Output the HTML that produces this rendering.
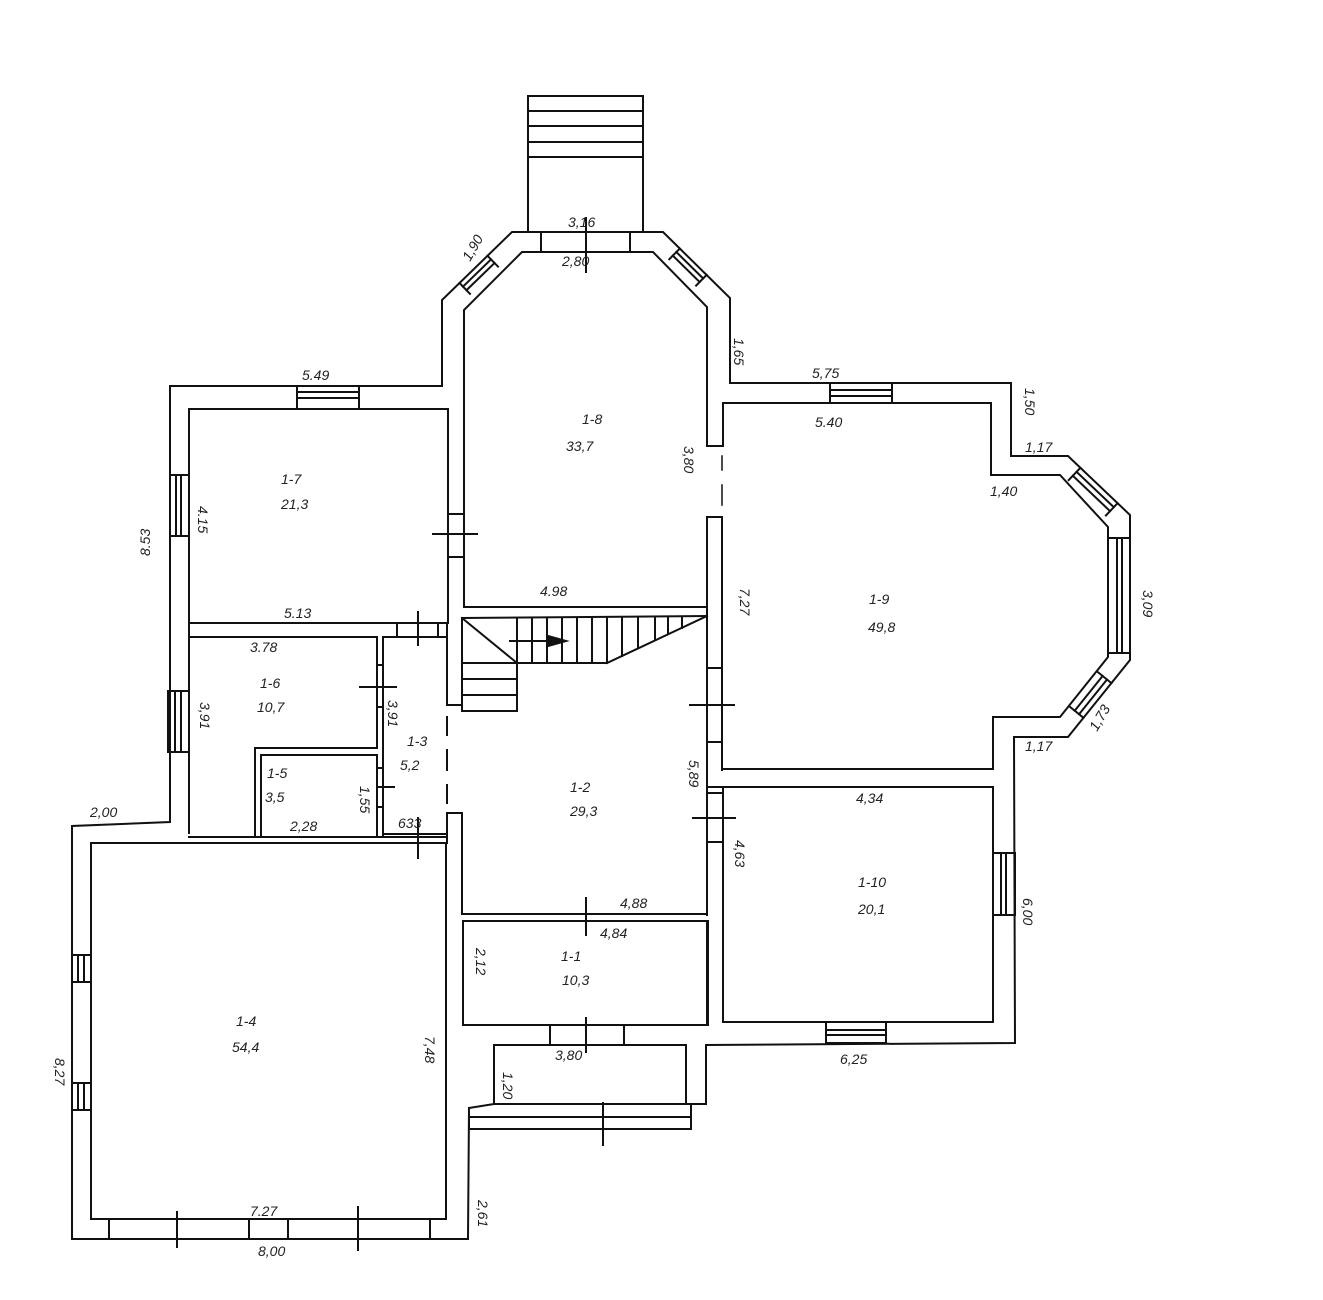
<!DOCTYPE html>
<html><head><meta charset="utf-8"><style>
html,body{margin:0;padding:0;background:#fff;}
svg{display:block}
text{font-family:"Liberation Sans",sans-serif;font-style:italic;font-size:14px;fill:#222;}
</style></head><body>
<svg width="1323" height="1300" viewBox="0 0 1323 1300" xmlns="http://www.w3.org/2000/svg">
<rect width="1323" height="1300" fill="#fff"/>
<g stroke="#111" stroke-width="2" fill="none" stroke-linecap="square">
<!-- entrance steps top -->
<polyline points="528,232 528,96 643,96 643,232"/>
<line x1="528" y1="111" x2="643" y2="111"/><line x1="528" y1="126" x2="643" y2="126"/>
<line x1="528" y1="142" x2="643" y2="142"/><line x1="528" y1="157" x2="643" y2="157"/>
<!-- 1-8 bay -->
<polyline points="170,386 442,386 442,300 512,232 663,232 730,298 730,383 1011,383 1011,456 1068,456 1130,515 1130,660 1068,737 1014,737 1015,1043 706,1045 706,1104 691,1104"/>
<polyline points="464,607 464,310 522,252 653,252 707,307 707,446 722,446"/>
<line x1="541" y1="232" x2="541" y2="252"/><line x1="630" y1="232" x2="630" y2="252"/>
<line x1="586" y1="218" x2="586" y2="272"/>
<!-- left diag window -->
<line x1="487.5" y1="255.8" x2="498" y2="266.6"/><line x1="459.5" y1="283" x2="470" y2="293.8"/>
<line x1="491" y1="259.4" x2="463" y2="286.6"/><line x1="494.5" y1="263" x2="466.5" y2="290.2"/>
<!-- right diag window -->
<line x1="679.8" y1="248.5" x2="669.3" y2="259.2"/><line x1="706.6" y1="274.9" x2="696.1" y2="285.6"/>
<line x1="676.3" y1="252" x2="703.1" y2="278.4"/><line x1="672.8" y1="255.6" x2="699.6" y2="282"/>
<!-- 1-8 right wall lower part -->
<polyline points="707,607 707,517 722,517 722,770"/>
<line x1="722" y1="456" x2="722" y2="470" stroke-width="1.5"/><line x1="722" y1="485" x2="722" y2="505" stroke-width="1.5"/>
<!-- 1-9 -->
<polyline points="723,446 723,403 991,403 991,475 1060,475 1108,527 1108,657 1060,717 993,717 993,769 722,769"/>
<rect x="830" y="383" width="62" height="20"/>
<line x1="830" y1="390" x2="892" y2="390"/><line x1="830" y1="396" x2="892" y2="396"/>
<line x1="1080.4" y1="467.8" x2="1068.7" y2="480.1"/><line x1="1117.6" y1="503.2" x2="1105.9" y2="515.5"/>
<line x1="1076.6" y1="471.8" x2="1113.8" y2="507.2"/><line x1="1072.8" y1="475.7" x2="1110" y2="511.1"/>
<rect x="1108" y="538" width="22" height="115"/>
<line x1="1117" y1="538" x2="1117" y2="653"/><line x1="1122" y1="538" x2="1122" y2="653"/>
<line x1="1111.4" y1="683.1" x2="1098.2" y2="672.4"/><line x1="1083.5" y1="717.8" x2="1070.3" y2="707.1"/>
<line x1="1107" y1="679.5" x2="1079.1" y2="714.2"/><line x1="1102.6" y1="676" x2="1074.7" y2="710.7"/>
<!-- 1-10 -->
<rect x="723" y="787" width="270" height="235"/>
<rect x="993" y="853" width="22" height="62"/>
<line x1="1001" y1="853" x2="1001" y2="915"/><line x1="1006" y1="853" x2="1006" y2="915"/>
<rect x="826" y="1022" width="60" height="21"/>
<line x1="826" y1="1030" x2="886" y2="1030"/><line x1="826" y1="1035" x2="886" y2="1035"/>
<line x1="708" y1="787" x2="723" y2="787"/>
<!-- 1-2 right wall with doors -->
<line x1="707" y1="607" x2="707" y2="915"/>
<line x1="707" y1="668" x2="722" y2="668"/><line x1="707" y1="742" x2="722" y2="742"/>
<line x1="690" y1="705" x2="734" y2="705"/>
<line x1="707" y1="793" x2="722" y2="793"/><line x1="707" y1="842" x2="722" y2="842"/>
<line x1="693" y1="818" x2="735" y2="818"/>
<line x1="707" y1="921" x2="707" y2="1025"/>
<!-- 1-7 -->
<polyline points="170,386 170,822 72,826 72,1239 468,1239 469,1108"/>
<polyline points="189,409 448,409 448,623 189,623 189,409"/>
<rect x="297" y="386" width="62" height="23"/>
<line x1="297" y1="392" x2="359" y2="392"/><line x1="297" y1="398" x2="359" y2="398"/>
<rect x="170" y="475" width="19" height="61"/>
<line x1="176" y1="475" x2="176" y2="536"/><line x1="181" y1="475" x2="181" y2="536"/>
<line x1="448" y1="514" x2="464" y2="514"/><line x1="448" y1="557" x2="464" y2="557"/>
<line x1="433" y1="534" x2="477" y2="534"/>
<line x1="464" y1="607" x2="707" y2="607"/>
<!-- stairs -->
<polyline points="462,705 462,618 707,616"/>
<line x1="462" y1="618" x2="517" y2="663"/>
<line x1="462" y1="663" x2="607" y2="663"/><line x1="607" y1="663" x2="707" y2="616"/>
<rect x="462" y="663" width="55" height="48"/>
<line x1="462" y1="679" x2="517" y2="679"/><line x1="462" y1="695" x2="517" y2="695"/>
<line x1="517" y1="618" x2="517" y2="663"/><line x1="532" y1="618" x2="532" y2="663"/><line x1="547" y1="618" x2="547" y2="663"/><line x1="562" y1="618" x2="562" y2="663"/><line x1="577" y1="618" x2="577" y2="663"/><line x1="592" y1="618" x2="592" y2="663"/><line x1="607" y1="617" x2="607" y2="663"/><line x1="622" y1="617" x2="622" y2="656"/><line x1="638" y1="617" x2="638" y2="648"/><line x1="655" y1="617" x2="655" y2="640"/><line x1="668" y1="617" x2="668" y2="634"/><line x1="682" y1="617" x2="682" y2="628"/>
<line x1="510" y1="641" x2="560" y2="641"/><polygon points="548,636 566,641 548,646" fill="#111"/>
<line x1="447" y1="623" x2="447" y2="705"/><line x1="447" y1="705" x2="462" y2="705"/>
<!-- 1-6,1-5,1-3 -->
<polyline points="189,623 189,637 377,637 377,748 255,748 255,837"/>
<line x1="189" y1="637" x2="189" y2="833"/>
<rect x="261" y="755" width="116" height="82"/>
<line x1="383" y1="637" x2="383" y2="837"/>
<line x1="383" y1="637" x2="447" y2="637"/>
<line x1="397" y1="623" x2="397" y2="637"/><line x1="438" y1="623" x2="438" y2="637"/>
<line x1="418" y1="612" x2="418" y2="645"/>
<line x1="377" y1="665" x2="383" y2="665"/><line x1="377" y1="707" x2="383" y2="707"/>
<line x1="360" y1="687" x2="396" y2="687"/>
<line x1="377" y1="768" x2="383" y2="768"/><line x1="377" y1="807" x2="383" y2="807"/>
<line x1="377" y1="787" x2="394" y2="787"/>
<rect x="168" y="691" width="21" height="61"/>
<line x1="175" y1="691" x2="175" y2="752"/><line x1="181" y1="691" x2="181" y2="752"/>
<line x1="189" y1="837" x2="447" y2="837"/>
<line x1="383" y1="834" x2="447" y2="834"/>
<line x1="447" y1="813" x2="462" y2="813"/><line x1="462" y1="813" x2="462" y2="914"/>
<line x1="447" y1="813" x2="447" y2="843"/>
<line x1="418" y1="818" x2="418" y2="858"/>
<line x1="447" y1="717" x2="447" y2="735"/><line x1="447" y1="750" x2="447" y2="770"/><line x1="447" y1="785" x2="447" y2="803"/>
<!-- 1-4 -->
<polyline points="91,843 446,843 446,1219 91,1219 91,843"/>
<rect x="72" y="955" width="19" height="27"/>
<line x1="78" y1="955" x2="78" y2="982"/><line x1="84" y1="955" x2="84" y2="982"/>
<rect x="72" y="1083" width="19" height="27"/>
<line x1="78" y1="1083" x2="78" y2="1110"/><line x1="84" y1="1083" x2="84" y2="1110"/>
<line x1="109" y1="1219" x2="109" y2="1239"/><line x1="177" y1="1212" x2="177" y2="1247"/>
<line x1="249" y1="1219" x2="249" y2="1239"/><line x1="288" y1="1219" x2="288" y2="1239"/>
<line x1="358" y1="1207" x2="358" y2="1250"/><line x1="430" y1="1219" x2="430" y2="1239"/>
<!-- 1-2 bottom / 1-1 -->
<line x1="462" y1="914" x2="707" y2="914"/>
<rect x="463" y="921" width="245" height="104"/>
<line x1="586" y1="898" x2="586" y2="935"/>
<line x1="550" y1="1025" x2="550" y2="1045"/><line x1="624" y1="1025" x2="624" y2="1045"/>
<line x1="586" y1="1018" x2="586" y2="1052"/>
<!-- porch -->
<polyline points="494,1104 494,1045 686,1045 686,1104"/>
<polyline points="469,1108 494,1104 691,1104 691,1129 469,1129 469,1108"/>
<line x1="469" y1="1117" x2="691" y2="1117"/>
<line x1="603" y1="1103" x2="603" y2="1145"/>
</g>
<g>
<text x="568" y="227">3,16</text>
<text x="562" y="266">2,80</text>
<text x="470" y="262" transform="rotate(-60 470 262)">1,90</text>
<text x="734" y="338" transform="rotate(90 734 338)">1,65</text>
<text x="302" y="380">5.49</text>
<text x="812" y="378">5,75</text>
<text x="815" y="427">5.40</text>
<text x="1025" y="388" transform="rotate(90 1025 388)">1,50</text>
<text x="1025" y="452">1,17</text>
<text x="990" y="496">1,40</text>
<text x="1143" y="590" transform="rotate(90 1143 590)">3,09</text>
<text x="1097" y="732" transform="rotate(-60 1097 732)">1,73</text>
<text x="1025" y="751">1,17</text>
<text x="582" y="424">1-8</text>
<text x="566" y="451">33,7</text>
<text x="684" y="446" transform="rotate(90 684 446)">3,80</text>
<text x="281" y="484">1-7</text>
<text x="281" y="509">21,3</text>
<text x="198" y="506" transform="rotate(90 198 506)">4.15</text>
<text x="150" y="556" transform="rotate(-90 150 556)">8.53</text>
<text x="540" y="596">4.98</text>
<text x="284" y="618">5.13</text>
<text x="740" y="588" transform="rotate(90 740 588)">7,27</text>
<text x="869" y="604">1-9</text>
<text x="868" y="632">49,8</text>
<text x="250" y="652">3.78</text>
<text x="260" y="688">1-6</text>
<text x="257" y="712">10,7</text>
<text x="200" y="702" transform="rotate(90 200 702)">3,91</text>
<text x="388" y="700" transform="rotate(90 388 700)">3,91</text>
<text x="407" y="746">1-3</text>
<text x="400" y="770">5,2</text>
<text x="267" y="778">1-5</text>
<text x="265" y="802">3,5</text>
<text x="360" y="786" transform="rotate(90 360 786)">1,55</text>
<text x="290" y="831">2,28</text>
<text x="398" y="828">633</text>
<text x="90" y="817">2,00</text>
<text x="570" y="792">1-2</text>
<text x="570" y="816">29,3</text>
<text x="689" y="760" transform="rotate(90 689 760)">5,89</text>
<text x="856" y="803">4,34</text>
<text x="858" y="887">1-10</text>
<text x="858" y="914">20,1</text>
<text x="735" y="840" transform="rotate(90 735 840)">4,63</text>
<text x="1023" y="898" transform="rotate(90 1023 898)">6,00</text>
<text x="620" y="908">4,88</text>
<text x="600" y="938">4,84</text>
<text x="561" y="961">1-1</text>
<text x="562" y="985">10,3</text>
<text x="476" y="948" transform="rotate(90 476 948)">2,12</text>
<text x="236" y="1026">1-4</text>
<text x="232" y="1052">54,4</text>
<text x="425" y="1036" transform="rotate(90 425 1036)">7,48</text>
<text x="55" y="1058" transform="rotate(90 55 1058)">8,27</text>
<text x="555" y="1060">3,80</text>
<text x="503" y="1072" transform="rotate(90 503 1072)">1,20</text>
<text x="840" y="1064">6,25</text>
<text x="250" y="1216">7.27</text>
<text x="258" y="1256">8,00</text>
<text x="478" y="1200" transform="rotate(90 478 1200)">2,61</text>
</g>
</svg>
</body></html>
